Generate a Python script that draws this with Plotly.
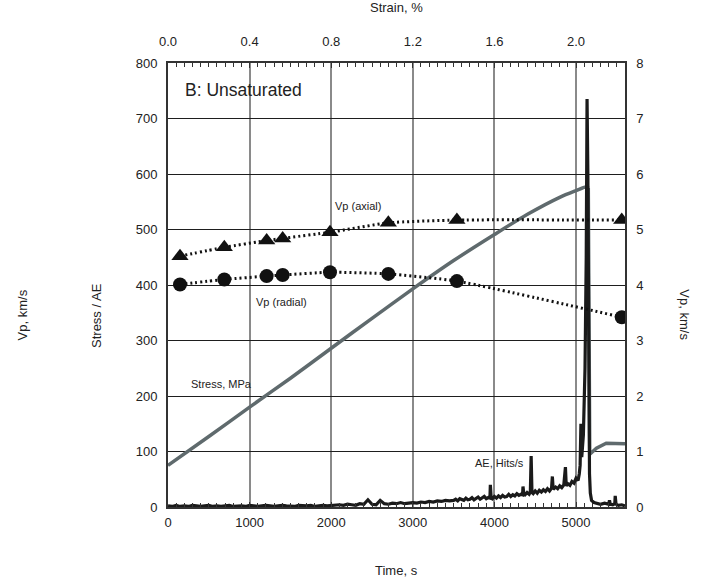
import plotly.graph_objects as go

# ---------------- data ----------------
vp_time = [147, 690, 1209, 1405, 1985, 2700, 3540, 5560]
vp_axial = [4.52, 4.68, 4.80, 4.84, 4.95, 5.12, 5.17, 5.17]
vp_radial = [4.01, 4.10, 4.16, 4.18, 4.23, 4.20, 4.07, 3.42]

stress_time = [0, 500, 1000, 1500, 2000, 2500, 3000, 3500, 4000, 4400, 4800,
               5000, 5130, 5150]
stress_val = [75, 127, 180, 232, 286, 340, 393, 444, 491, 527, 558,
              570, 577, 575]
stress_tail_time = [5150, 5168, 5250, 5370, 5600]
stress_tail_val = [575, 95, 106, 115, 114]

ae_time = [0, 50, 100, 150, 200, 250, 300, 350, 400, 450, 500, 550, 600, 650,
           700, 750, 800, 850, 900, 950, 1000, 1050, 1100, 1150, 1200, 1250,
           1300, 1350, 1400, 1450, 1500, 1550, 1600, 1650, 1700, 1750, 1800,
           1850, 1900, 1950, 2000,
           2050, 2100, 2150, 2200, 2250, 2300, 2350, 2400, 2450, 2500, 2550,
           2600, 2650, 2700, 2750, 2800, 2850, 2900, 2950,
           3000, 3050, 3100, 3150, 3200, 3250, 3300, 3350, 3400, 3450,
           3500, 3525, 3550, 3575, 3600, 3625, 3650, 3675, 3700, 3725, 3750,
           3775, 3800, 3825, 3850, 3875, 3900, 3925, 3945, 3950, 3960, 3975,
           4000, 4025, 4050, 4075, 4100, 4125, 4150, 4175, 4200, 4225, 4250,
           4275, 4300, 4325, 4345, 4350, 4360, 4375, 4400, 4425, 4440, 4450,
           4460, 4475, 4500, 4525, 4550, 4575, 4600, 4625, 4650, 4675, 4700,
           4710, 4720, 4750, 4775, 4800, 4825, 4850, 4870, 4880, 4900, 4925,
           4950, 4975, 5000, 5025, 5040, 5050, 5060, 5070, 5090, 5110, 5125,
           5135, 5145, 5155, 5165, 5175, 5190, 5220, 5260, 5300, 5350, 5400,
           5410, 5420, 5450, 5475, 5480, 5490, 5520, 5560, 5600]
ae_val = [2, 1, 3, 1, 2, 1, 3, 2, 1, 2, 3, 1, 2, 1,
          2, 3, 1, 2, 2, 1, 3, 2, 1, 2, 3, 2,
          1, 2, 3, 2, 2, 1, 3, 2, 2, 3, 1,
          2, 3, 2, 3,
          3, 4, 3, 5, 4, 3, 6, 5, 13, 5, 4,
          12, 6, 5, 7, 6, 8, 6, 7,
          8, 7, 9, 8, 10, 9, 11, 10, 12, 11,
          12, 14, 11, 15, 13, 12, 16, 13, 14, 17, 13,
          15, 18, 14, 16, 19, 15, 17, 16, 40, 17, 15,
          19, 16, 20, 17, 21, 18, 19, 23, 19, 22, 20,
          24, 21, 23, 22, 37, 24, 22, 26, 23, 27, 92,
          26, 24, 29, 25, 30, 27, 31, 28, 33, 29, 34,
          55, 32, 36, 33, 38, 35, 40, 72, 38, 42, 39,
          46, 43, 52, 48, 60, 75, 150, 90, 130, 250, 450,
          735, 600, 200, 60, 25, 12, 8, 6, 5, 7, 5,
          12, 5, 4, 6, 20, 5, 3, 4, 2]

time_ticks = [0, 1000, 2000, 3000, 4000, 5000]
strain_ticks = [0.0, 0.4, 0.8, 1.2, 1.6, 2.0]
left_ticks = [0, 100, 200, 300, 400, 500, 600, 700, 800]
right_ticks = [0, 1, 2, 3, 4, 5, 6, 7, 8]

FONT = "Liberation Sans, Arial, sans-serif"
DARK = "#222222"
STRESS_C = "#5f6a6d"

fig = go.Figure()

fig.add_trace(go.Scatter(x=stress_time, y=stress_val, mode="lines",
                         line=dict(color=STRESS_C, width=3.5, shape="spline",
                                   smoothing=0.8),
                         xaxis="x", yaxis="y", showlegend=False))
fig.add_trace(go.Scatter(x=stress_tail_time, y=stress_tail_val, mode="lines",
                         line=dict(color=STRESS_C, width=3.5),
                         xaxis="x", yaxis="y", showlegend=False))
fig.add_trace(go.Scatter(x=ae_time, y=ae_val, mode="lines",
                         line=dict(color="#1a1a1a", width=3.2),
                         xaxis="x", yaxis="y", showlegend=False))
fig.add_trace(go.Scatter(x=vp_time, y=vp_axial, mode="lines+markers",
                         line=dict(color="#111111", width=3, dash="2px,3px",
                                   shape="spline", smoothing=0.5),
                         marker=dict(symbol="triangle-up", size=15, color="#111111"),
                         xaxis="x", yaxis="y2", showlegend=False))
fig.add_trace(go.Scatter(x=vp_time, y=vp_radial, mode="lines+markers",
                         line=dict(color="#111111", width=3, dash="2px,3px",
                                   shape="spline", smoothing=0.5),
                         marker=dict(symbol="circle", size=14, color="#111111"),
                         xaxis="x", yaxis="y2", showlegend=False))
# invisible trace to activate top strain axis
fig.add_trace(go.Scatter(x=[0, 2.24], y=[0, 0], mode="markers",
                         marker=dict(opacity=0), xaxis="x2", yaxis="y",
                         showlegend=False, hoverinfo="skip"))

fig.update_layout(
    width=702, height=583,
    margin=dict(l=168, r=77, t=63, b=76, pad=0),
    paper_bgcolor="white", plot_bgcolor="white",
    font=dict(family=FONT, size=13, color=DARK),
    hovermode=False,
    xaxis=dict(range=[0, 5600], tickvals=time_ticks, showgrid=True,
               gridcolor="#8a8a8a", gridwidth=1.5, zeroline=False,
               showline=True, linecolor="#333333", linewidth=2,
               ticks="inside", ticklen=5, tickcolor="#333333",
               minor=dict(dtick=100, ticks="inside", ticklen=4,
                          tickcolor="#333333", showgrid=False),
               ticklabelstandoff=2),
    xaxis2=dict(range=[0, 2.24], tickvals=strain_ticks, tickformat=".1f",
                overlaying="x", side="top", anchor="y", showgrid=False,
                zeroline=False, showline=True, linecolor="#333333", linewidth=1.5,
                ticks="inside", ticklen=5, tickcolor="#333333",
                minor=dict(dtick=0.04, ticks="inside", ticklen=4,
                           tickcolor="#333333", showgrid=False),
                ticklabelstandoff=10),
    yaxis=dict(range=[0, 800], tickvals=left_ticks, showgrid=True,
               gridcolor="#1e1e1e", gridwidth=1.3, zeroline=False,
               showline=True, linecolor="#333333", linewidth=2,
               ticks="", ticklabelstandoff=6),
    yaxis2=dict(range=[0, 8], tickvals=right_ticks, overlaying="y", side="right",
                anchor="x", showgrid=False, zeroline=False, showline=True,
                linecolor="#333333", linewidth=1.5, ticks="",
                ticklabelstandoff=7),
)

def txt(text, x, y, size, ref="data", angle=0, xanchor="left"):
    if ref == "data":
        return dict(text=text, x=x, y=y, xref="x", yref="y", xanchor=xanchor,
                    yanchor="middle", showarrow=False, font=dict(size=size))
    return dict(text=text, x=x, y=y, xref="paper", yref="paper", xanchor="center",
                yanchor="middle", showarrow=False, textangle=angle,
                font=dict(size=size))

ann = [
    txt("B: Unsaturated", 184, 752, 17.5),
    txt("Vp (axial)", 2022, 542, 11),
    txt("Vp (radial)", 1054, 369, 11),
    txt("Stress, MPa", 257, 221, 11),
    txt("AE, Hits/s", 3737, 80, 11),
    txt("Time, s", 0.501, -0.144, 13, ref="paper"),
    txt("Strain, %", 0.501, 1.124, 13, ref="paper"),
    txt("Vp, km/s", -0.319, 0.432, 13, ref="paper", angle=-90),
    txt("Stress / AE", -0.158, 0.432, 13, ref="paper", angle=-90),
    txt("Vp, km/s", 1.131, 0.432, 13, ref="paper", angle=90),
]
fig.update_layout(annotations=ann)

fig.write_html("out.html",
               config={"displayModeBar": False},
               post_script="document.body.style.margin='0';"
                           "document.body.style.overflow='hidden';")
